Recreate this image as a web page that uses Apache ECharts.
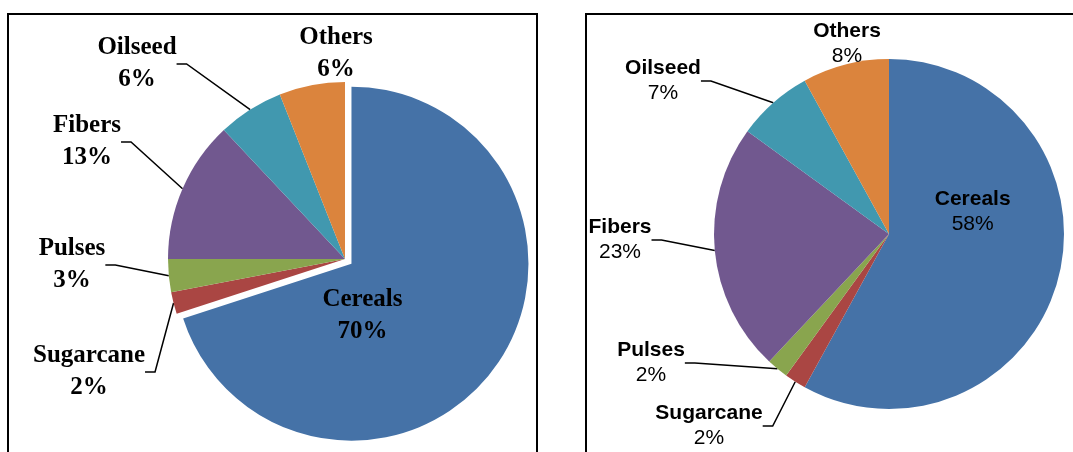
<!DOCTYPE html>
<html>
<head>
<meta charset="utf-8">
<title>Crop share – two pies</title>
<script src="https://cdn.jsdelivr.net/npm/echarts@6/dist/echarts.min.js"></script>
<style>
  html, body { margin: 0; padding: 0; background: #fff; }
  #chart { width: 1073px; height: 452px; }
</style>
</head>
<body>
<div id="chart"></div>
<script>
// ── Data ───────────────────────────────────────────────────────────────
const categories = ['Cereals', 'Sugarcane', 'Pulses', 'Fibers', 'Oilseed', 'Others'];
const leftShares = [70, 2, 3, 13, 6, 6];    // %
const rightShares = [58, 2, 2, 23, 7, 8];   // %

// ── Style ──────────────────────────────────────────────────────────────
// Excel 2007 style palette, same order as categories
const COLORS = ['#4572A7', '#AA4643', '#89A54E', '#71588F', '#4198AF', '#DB843D'];

// outside label block centres (px), same order as categories (Cereals sits inside)
const LEFT_LABEL_AT = [null, [89, 372], [72, 265], [87, 142], [137, 64], [336, 54]];
const RIGHT_LABEL_AT = [null, [709, 426], [651, 363], [620, 240], [663, 81], [847, 44]];

function buildPie(shares, opts) {
  return {
    type: 'pie',
    center: opts.center,
    radius: opts.radius,
    startAngle: 90,
    clockwise: true,
    selectedMode: opts.explode ? 'single' : false,
    selectedOffset: 8,
    avoidLabelOverlap: false,
    emphasis: { disabled: true },
    itemStyle: { borderWidth: 0 },
    label: {
      position: 'outside',
      formatter: '{n|{b}}\n{v|{d}%}',
      rich: {
        n: { fontFamily: opts.font, fontSize: opts.size, fontWeight: 'bold', color: '#000', lineHeight: opts.lh, align: 'center' },
        v: { fontFamily: opts.font, fontSize: opts.size, fontWeight: opts.valueWeight, color: '#000', lineHeight: opts.lh, align: 'center' },
      },
    },
    labelLine: {
      show: true,
      length: 10,
      length2: 10,
      minTurnAngle: 0,
      lineStyle: { color: '#000', width: 1.5 },
    },
    // move outside labels to where the original has them, echarts redraws the leader line
    labelLayout: (p) => {
      const at = opts.labelAt[p.dataIndex];
      if (!at) return {};
      return { x: at[0], y: at[1], align: 'center', verticalAlign: 'middle' };
    },
    data: categories.map((name, i) => {
      const item = {
        name,
        value: shares[i],
        itemStyle: { color: COLORS[i] },
        labelLine: { show: i !== 0 && i !== 5 },
      };
      if (i === 0) {
        item.label = { position: 'inside', offset: opts.innerOffset };
        // selected state builds its own label style, so repeat the offset there
        item.select = { label: { offset: opts.innerOffset } };
        item.selected = !!opts.explode;
      }
      return item;
    }),
  };
}

const chart = echarts.init(document.getElementById('chart'), null, { renderer: 'canvas' });

chart.setOption({
  backgroundColor: '#fff',
  animation: false,
  tooltip: { show: false },
  graphic: [
    { type: 'rect', silent: true, shape: { x: 8, y: 14, width: 529, height: 470 },
      style: { fill: 'none', stroke: '#000', lineWidth: 2 } },
    { type: 'rect', silent: true, shape: { x: 586, y: 14, width: 500, height: 470 },
      style: { fill: 'none', stroke: '#000', lineWidth: 2 } },
  ],
  series: [
    buildPie(leftShares, {
      center: [345, 259], radius: 177, explode: true, innerOffset: [-63, -2],
      font: '"Liberation Serif", "Times New Roman", serif', size: 25, lh: 32, valueWeight: 'bold',
      labelAt: LEFT_LABEL_AT,
    }),
    buildPie(rightShares, {
      center: [889, 234], radius: 175, explode: false, innerOffset: [-4, -45],
      font: '"Liberation Sans", Arial, sans-serif', size: 21, lh: 25, valueWeight: 'normal',
      labelAt: RIGHT_LABEL_AT,
    }),
  ],
});
</script>
</body>
</html>
